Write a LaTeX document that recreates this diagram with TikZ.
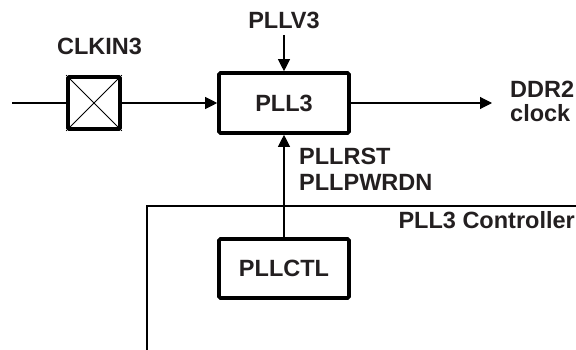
\documentclass[tikz,border=0pt]{standalone}
\usepackage{fontspec}
\setmainfont{Liberation Sans}
\usetikzlibrary{arrows.meta}
\definecolor{txt}{HTML}{231F20}
\tikzset{
  bigbox/.style={draw=black, line width=3.6pt, rounded corners=1.5pt, inner sep=0pt, fill=white},
  thin/.style={draw=black, line width=1.1pt},
  arr/.style={thin, -{Triangle[length=12pt, width=12pt]}},
  lbl/.style={text=txt, inner sep=0pt, font=\fontsize{23.5}{27}\selectfont\bfseries},
}
\begin{document}
\begin{tikzpicture}[x=1pt, y=-1pt]
\useasboundingbox (0,0) rectangle (576,350);
% controller frame
\coordinate (frtop) at (576,206);
\coordinate (frcorner) at (147,206);
\coordinate (frbot) at (147,350);
\draw[thin] (frtop) -- (frcorner) -- (frbot);
% nodes
\node[bigbox, minimum width=52pt, minimum height=52pt] (clk) at (94,103) {};
\draw[thin, line width=0.9pt] (clk.north west) -- (clk.south east) (clk.north east) -- (clk.south west);
\node[bigbox, fill=none, minimum width=52pt, minimum height=52pt] at (94,103) {};
\node[bigbox, minimum width=130pt, minimum height=60pt, lbl] (pll) at (284,103) {PLL3};
\node[bigbox, minimum width=130pt, minimum height=59pt, lbl] (ctl) at (284,268.5) {PLLCTL};
% labels
\node[lbl, anchor=base] (clklbl) at (99.5,55) {CLKIN3};
\node[lbl, anchor=base] (v3) at (284,29) {PLLV3};
\node[lbl, anchor=base west] (ddr) at (510,98) {DDR2};
\node[lbl, anchor=base west] (clock) at (510,122) {clock};
\node[lbl, anchor=base west] (rst) at (299,165) {PLLRST};
\node[lbl, anchor=base west] (pwd) at (299,191) {PLLPWRDN};
\node[lbl, anchor=base east] (ctrl) at (575,228) {PLL3 Controller};
% connectors
\coordinate (in) at (12,103);
\coordinate (out) at (492,103);
\coordinate (v3end) at (284,35);
\draw[thin] (in) -- (clk.west);
\draw[arr] (clk.east) -- (pll.west);
\draw[arr] (v3end) -- (pll.north);
\draw[arr] (pll.east) -- (out);
\draw[arr] (ctl.north) -- (pll.south);
\end{tikzpicture}
\end{document}
